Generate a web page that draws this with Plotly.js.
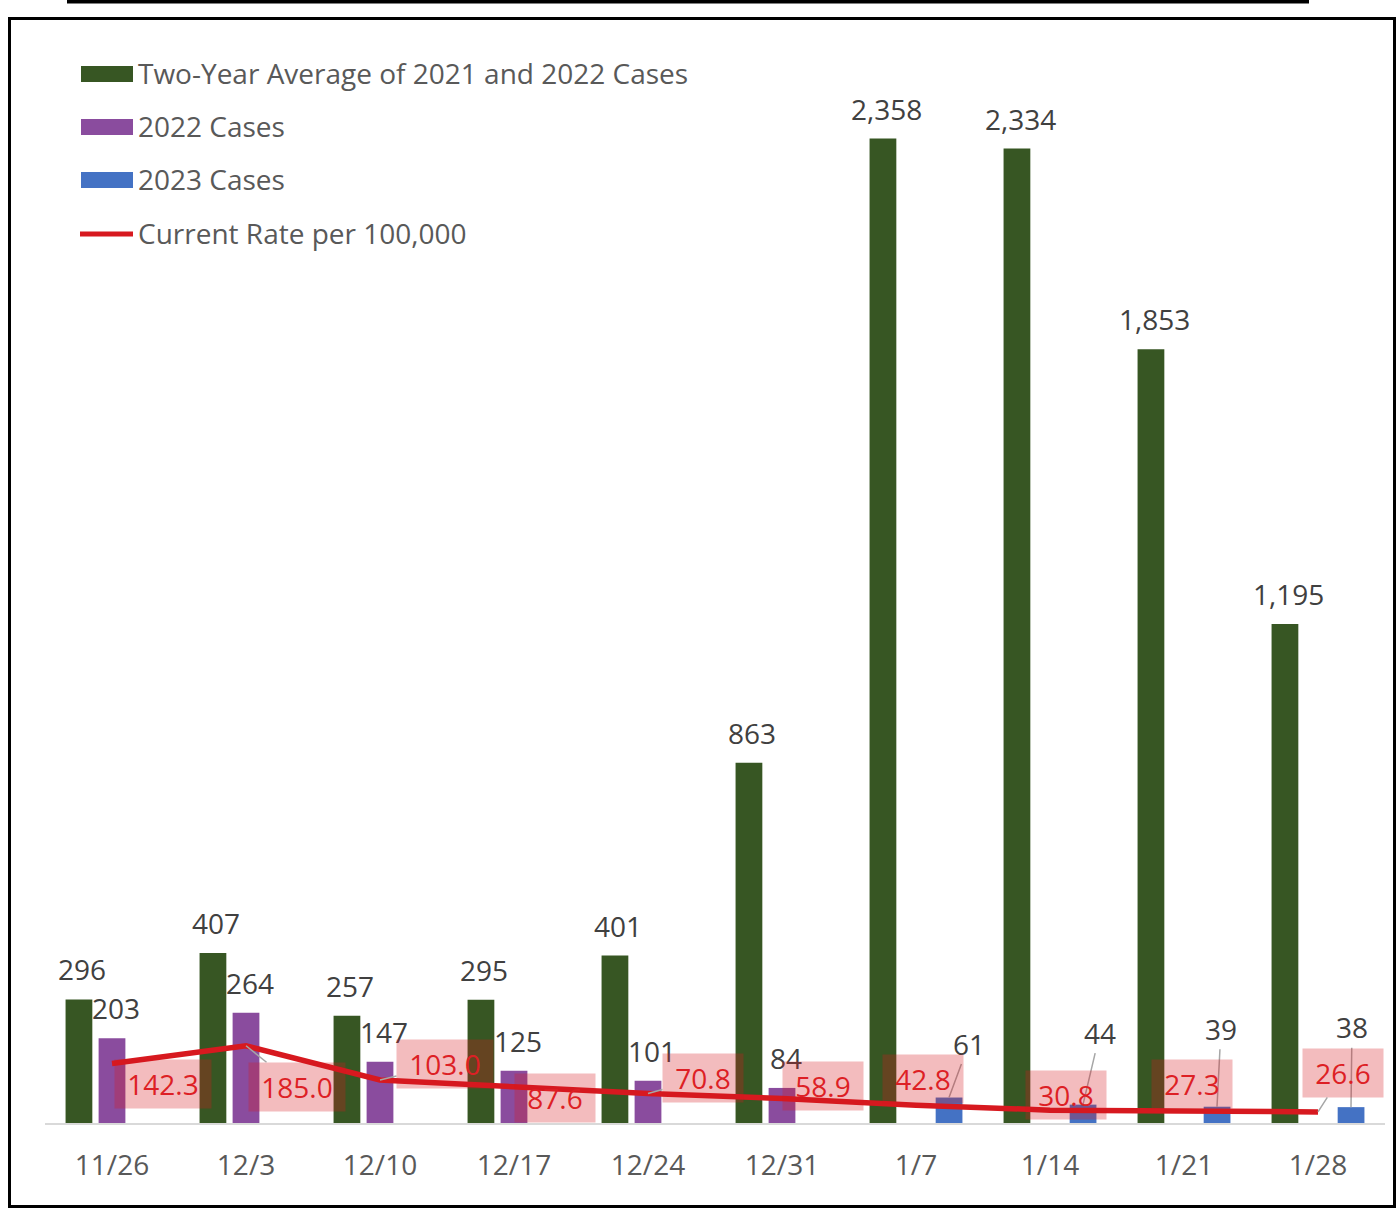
<!DOCTYPE html>
<html>
<head>
<meta charset="utf-8">
<script src="https://cdn.plot.ly/plotly-3.0.1.min.js"></script>
<style>
  html, body { margin: 0; padding: 0; background: #ffffff; }
  #chart { width: 1397px; height: 1210px; }
</style>
</head>
<body>
<div id="chart"></div>
<script>
// ---------------- DATA ----------------
const categories = ['11/26', '12/3', '12/10', '12/17', '12/24', '12/31', '1/7', '1/14', '1/21', '1/28'];
const avgCases2021_2022 = [296, 407, 257, 295, 401, 863, 2358, 2334, 1853, 1195];
const cases2022 = [203, 264, 147, 125, 101, 84, null, null, null, null];
const cases2023 = [null, null, null, null, null, null, 61, 44, 39, 38];
const ratePer100k = [142.3, 185.0, 103.0, 87.6, 70.8, 58.9, 42.8, 30.8, 27.3, 26.6];
const seriesNames = ['Two-Year Average of 2021 and 2022 Cases', '2022 Cases', '2023 Cases', 'Current Rate per 100,000'];

// ---------------- STYLE ----------------
const colors = ['#375623', '#8A4C9E', '#4472C4', '#D7191F'];
const FONT = 'Open Sans, Noto Sans, sans-serif';
const FS = 28;
const W = 1397, H = 1210;
const M = { l: 45, r: 12, t: 30, b: 87 };
const plotW = W - M.l - M.r, plotH = H - M.t - M.b;
const pxPerUnit = 0.4175;
const yMax = plotH / pxPerUnit;
const px = p => (p - M.l) / plotW;           // page x -> paper x
const py = p => (H - M.b - p) / plotH;       // page y -> paper y
const slot = 33;                             // bar slot offset in px

// label offsets (px) relative to the mark they describe
const rateLabelOffsets = [[51, 20], [51, 41], [65, -16], [41, 12], [55, -15], [41, -12], [7, -26], [16, -15], [8, -28], [25, -39]];
const rateLeader = [false, true, true, false, true, false, false, false, false, true];
const blueLabelOffsets = [[20, -54], [17, -72], [4, -78], [1, -80]];

const traces = [
  { type: 'bar', name: seriesNames[0], x: categories, y: avgCases2021_2022, marker: { color: colors[0] }, hoverinfo: 'skip' },
  { type: 'bar', name: seriesNames[1], x: categories, y: cases2022, marker: { color: colors[1] }, hoverinfo: 'skip' },
  { type: 'bar', name: seriesNames[2], x: categories, y: cases2023, marker: { color: colors[2] }, hoverinfo: 'skip' },
  { type: 'scatter', mode: 'lines', name: seriesNames[3], x: categories, y: ratePer100k,
    line: { color: colors[3], width: 5.5 }, hoverinfo: 'skip' }
];

const annotations = [];
const fmt = v => v.toLocaleString('en-US');

// green labels
avgCases2021_2022.forEach((v, i) => {
  annotations.push({ x: categories[i], y: v, xref: 'x', yref: 'y', text: fmt(v), showarrow: false,
    xshift: -slot + 3, yshift: 30, font: { family: FONT, size: FS, color: '#404040' } });
});
// purple labels
cases2022.forEach((v, i) => {
  if (v == null) return;
  annotations.push({ x: categories[i], y: v, xref: 'x', yref: 'y', text: fmt(v), showarrow: false,
    xshift: 4, yshift: 30, font: { family: FONT, size: FS, color: '#404040' } });
});
// blue labels with leader lines
let bi = 0;
cases2023.forEach((v, i) => {
  if (v == null) return;
  const o = blueLabelOffsets[bi++];
  annotations.push({ x: categories[i], y: v, xref: 'x', yref: 'y', text: fmt(v), showarrow: true,
    xshift: slot, ax: o[0], ay: o[1], arrowhead: 0, arrowwidth: 1.5, arrowcolor: '#A6A6A6',
    font: { family: FONT, size: FS, color: '#404040' } });
});
// rate labels with pink boxes
ratePer100k.forEach((v, i) => {
  const t = v.toFixed(1);
  const o = rateLabelOffsets[i];
  annotations.push({ x: categories[i], y: v, xref: 'x', yref: 'y', text: t, showarrow: true,
    ax: o[0], ay: o[1], arrowhead: 0, arrowwidth: 1.5,
    arrowcolor: rateLeader[i] ? '#A6A6A6' : 'rgba(0,0,0,0)',
    bgcolor: 'rgba(215,25,30,0.29)', borderpad: 6, width: t.length > 4 ? 84 : 68, height: 36,
    font: { family: FONT, size: FS, color: '#DD1F25' } });
});

// custom legend
const legendY = [74, 127, 180, 234];
const shapes = [];
for (let k = 0; k < 3; k++) {
  shapes.push({ type: 'rect', xref: 'paper', yref: 'paper', x0: px(81), x1: px(133),
    y0: py(legendY[k] - 8), y1: py(legendY[k] + 8), fillcolor: colors[k], line: { width: 0 } });
}
shapes.push({ type: 'line', xref: 'paper', yref: 'paper', x0: px(80), x1: px(133),
  y0: py(legendY[3]), y1: py(legendY[3]), line: { color: colors[3], width: 5 } });
seriesNames.forEach((n, k) => {
  annotations.push({ xref: 'paper', yref: 'paper', x: px(136), y: py(legendY[k] - 1), xanchor: 'left', yanchor: 'middle',
    text: n, showarrow: false, font: { family: FONT, size: FS, color: '#595959' } });
});
// chart frame and the cropped bar at the top
shapes.push({ type: 'rect', xref: 'paper', yref: 'paper', x0: px(9.5), x1: px(1394.5), y0: py(1206.5), y1: py(18.5),
  line: { color: '#000000', width: 3 }, fillcolor: 'rgba(0,0,0,0)' });
shapes.push({ type: 'rect', xref: 'paper', yref: 'paper', x0: px(67), x1: px(1309), y0: py(3.5), y1: py(-2),
  line: { width: 0 }, fillcolor: '#000000' });

const layout = {
  width: W, height: H,
  margin: M,
  paper_bgcolor: '#ffffff', plot_bgcolor: '#ffffff',
  barmode: 'group', bargap: 0.26, bargroupgap: 0.19,
  showlegend: false,
  xaxis: { type: 'category', showgrid: false, zeroline: false, showline: true, linecolor: '#D9D9D9', linewidth: 2,
    ticks: '', ticklabelstandoff: 16, tickfont: { family: FONT, size: FS, color: '#595959' }, fixedrange: true },
  yaxis: { range: [0, yMax], showgrid: false, zeroline: false, showline: false, showticklabels: false, ticks: '', fixedrange: true },
  annotations: annotations,
  shapes: shapes,
  font: { family: FONT }
};

Plotly.newPlot('chart', traces, layout, { displayModeBar: false, staticPlot: true });
</script>
</body>
</html>
